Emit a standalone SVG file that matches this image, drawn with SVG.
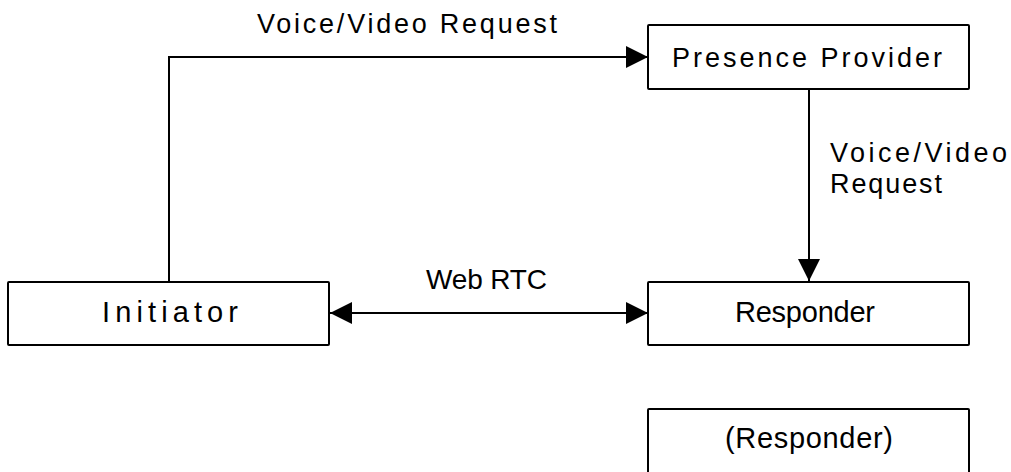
<svg xmlns="http://www.w3.org/2000/svg" width="1011" height="472" viewBox="0 0 1011 472">
<style>
.box{fill:#fff;stroke:#000;stroke-width:2}
.lbl{font-family:"Liberation Sans",Arial,sans-serif;fill:#000}
.edge{fill:none;stroke:#000;stroke-width:2}
</style>
<defs>
<marker id="ah" viewBox="0 0 22 22" refX="22" refY="11" markerWidth="22" markerHeight="22" markerUnits="userSpaceOnUse" orient="auto-start-reverse">
<path d="M0,0 L22,11 L0,22 Z" fill="#000"/>
</marker>
</defs>
<rect width="1011" height="472" fill="#fff"/>
<g id="connectors">
<path class="edge" d="M169,282 V57 H648" marker-end="url(#ah)"/>
<path class="edge" d="M809,89 V281" marker-end="url(#ah)"/>
<path class="edge" d="M330,313 H648" marker-start="url(#ah)" marker-end="url(#ah)"/>
<text class="lbl" x="257" y="33" font-size="27" textLength="300" lengthAdjust="spacing">Voice/Video Request</text>
<text class="lbl" x="830" y="162" font-size="27" textLength="177" lengthAdjust="spacing">Voice/Video</text>
<text class="lbl" x="830" y="193" font-size="27" textLength="112" lengthAdjust="spacing">Request</text>
<text class="lbl" x="426" y="289" font-size="28" textLength="121" lengthAdjust="spacing">Web RTC</text>
</g>
<g id="presence">
<rect class="box" x="648" y="25" width="321" height="64" rx="1"/>
<text class="lbl" x="672" y="67" font-size="27" textLength="270" lengthAdjust="spacing">Presence Provider</text>
</g>
<g id="initiator">
<rect class="box" x="8" y="282" width="321" height="63" rx="1"/>
<text class="lbl" x="102" y="322" font-size="29" textLength="136" lengthAdjust="spacing">Initiator</text>
</g>
<g id="responder">
<rect class="box" x="648" y="282" width="321" height="63" rx="1"/>
<text class="lbl" x="735" y="322" font-size="29" textLength="140" lengthAdjust="spacing">Responder</text>
</g>
<g id="responder2">
<rect class="box" x="648" y="409" width="321" height="80" rx="1"/>
<text class="lbl" x="725" y="448" font-size="29" textLength="168" lengthAdjust="spacing">(Responder)</text>
</g>
</svg>
